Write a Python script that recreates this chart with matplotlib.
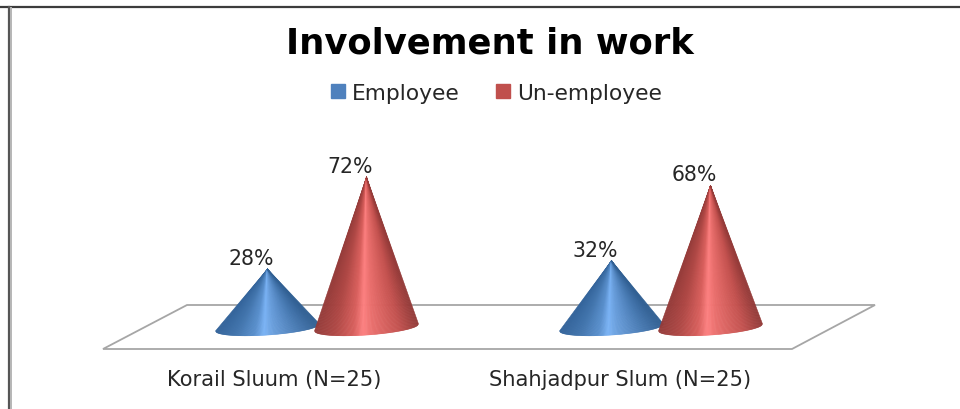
import numpy as np
import matplotlib
matplotlib.use("Agg")
import matplotlib.pyplot as plt
from matplotlib.collections import PolyCollection
from matplotlib.colors import LinearSegmentedColormap
from matplotlib.lines import Line2D
from matplotlib.patches import Polygon

categories = ["Korail Sluum (N=25)", "Shahjadpur Slum (N=25)"]
series_names = ["Employee", "Un-employee"]
employee = [28, 32]
unemployee = [72, 68]
title = "Involvement in work"

W, H = 960, 410
fig = plt.figure(figsize=(W / 100, H / 100), dpi=100)
ax = fig.add_axes([0, 0, 1, 1])
PX_PER_CAT, CAT0_PX = 344.0, 317.0
PX_PER_PCT, ZERO_PX = 2.09, 328.5
ax.set_xlim(-CAT0_PX / PX_PER_CAT, (W - CAT0_PX) / PX_PER_CAT)
ax.set_ylim((ZERO_PX - H) / PX_PER_PCT, ZERO_PX / PX_PER_PCT)
ax.axis("off")


def P(x, y):
    return (x / W, 1 - y / H)


# outer frame
ax.add_line(Line2D([0, 1], [1 - 7.5 / H] * 2, transform=ax.transAxes, color="#3c3c3c", lw=1.6))
ax.add_line(Line2D([8.5 / W] * 2, [0, 1 - 7.5 / H], transform=ax.transAxes, color="#555555", lw=1.6))
ax.add_line(Line2D([10.5 / W] * 2, [0, 1 - 8.5 / H], transform=ax.transAxes, color="#b5b5b5", lw=1.4))

# floor
ax.add_patch(Polygon([P(103, 350), P(792, 350), P(875, 306), P(187, 306)], closed=True,
                     transform=ax.transAxes, fc="white", ec="#a6a6a6", lw=1.3, zorder=1))

blue = LinearSegmentedColormap.from_list("b", [(0, "#33639a"), (0.2, "#4275ad"), (0.38, "#5a90cd"),
                                               (0.47, "#7ab3f5"), (0.56, "#6a9fdd"), (0.82, "#4678b0"),
                                               (1, "#315f92")])
red = LinearSegmentedColormap.from_list("r", [(0, "#943b39"), (0.2, "#b04845"), (0.38, "#d95f5d"),
                                              (0.47, "#fd8080"), (0.56, "#ea6f6d"), (0.82, "#c4524f"),
                                              (1, "#933a38")])


def cone(xc, value, cmap, z):
    """One cone: base at zero, apex at the value, shaded across its width."""
    r = 52 / PX_PER_CAT
    t = np.linspace(-1, 1, 121)
    base_y = (3.5 * t - 7.5 * np.sqrt(1 - t ** 2)) / PX_PER_PCT
    base_x = xc + r * t
    verts, cols = [], []
    for i in range(len(t) - 1):
        verts.append([(xc, value), (base_x[i], base_y[i]), (base_x[i + 1], base_y[i + 1])])
        cols.append(cmap((t[i] + t[i + 1]) / 4 + 0.5))
    ax.add_collection(PolyCollection(verts, facecolors=cols, edgecolors=cols, linewidths=0.4, zorder=z))


offset = 49.5 / PX_PER_CAT
label_dx = -16.5 / PX_PER_CAT
label_dy = 11 / PX_PER_PCT
text_kw = dict(ha="center", va="center", fontsize=14.8, color="#262626", family="DejaVu Sans", zorder=6)
for i in range(len(categories)):
    cone(i - offset, employee[i], blue, 3)
    cone(i + offset, unemployee[i], red, 4)
    ax.text(i - offset + label_dx, employee[i] + label_dy, f"{employee[i]}%", **text_kw)
    ax.text(i + offset + label_dx, unemployee[i] + label_dy, f"{unemployee[i]}%", **text_kw)
    ax.text(i - 0.125 + 0.006 * i, (ZERO_PX - 380) / PX_PER_PCT, categories[i], ha="center", va="center",
            fontsize=15.1, color="#262626", family="DejaVu Sans")

ax.text(489.5 / W, 1 - 44 / H, title, transform=ax.transAxes, ha="center", va="center",
        fontsize=25.5, fontweight="bold", color="black", family="DejaVu Sans")

handles = [Line2D([], [], ls="", marker="s", ms=10, color="#4f81bd"),
           Line2D([], [], ls="", marker="s", ms=10, color="#c0504d")]
ax.legend(handles, series_names, ncol=2, loc="center", bbox_to_anchor=(494.5 / W, 1 - 94 / H),
          frameon=False, prop=dict(family="DejaVu Sans", size=15.7), labelcolor="#262626",
          handlelength=1.0, handletextpad=0.14, columnspacing=1.5, borderpad=0, borderaxespad=0)

fig.savefig("out.png", dpi=100, facecolor="white")
